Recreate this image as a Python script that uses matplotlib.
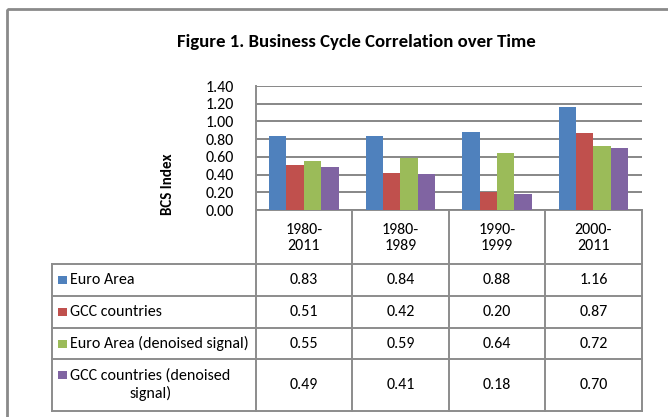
import numpy as np
import matplotlib
matplotlib.use("Agg")
import matplotlib.pyplot as plt
from matplotlib import font_manager
from matplotlib.patches import Rectangle

# data
categories = ["1980-\n2011", "1980-\n1989", "1990-\n1999", "2000-\n2011"]
series_names = ["Euro Area", "GCC countries", "Euro Area (denoised signal)",
                "GCC countries (denoised\nsignal)"]
euro_area = [0.83, 0.84, 0.88, 1.16]
gcc = [0.51, 0.42, 0.20, 0.87]
euro_denoised = [0.55, 0.59, 0.64, 0.72]
gcc_denoised = [0.49, 0.41, 0.18, 0.70]
yticks = [0.0, 0.2, 0.4, 0.6, 0.8, 1.0, 1.2, 1.4]

series = [euro_area, gcc, euro_denoised, gcc_denoised]
colors = ["#4F81BD", "#C0504D", "#9BBB59", "#8064A2"]
GRID = "#878787"
LINE = "#8C8C8C"
FS = 11.5

installed = {f.name for f in font_manager.fontManager.ttflist}
font = "Carlito" if "Carlito" in installed else "Lato"
plt.rcParams["font.family"] = [font, "DejaVu Sans"]

W, H = 668, 417
fig = plt.figure(figsize=(W / 100, H / 100), dpi=100)

# overlay in pixel coords for frame, table and text
ov = fig.add_axes([0, 0, 1, 1])
ov.set_xlim(0, W)
ov.set_ylim(H, 0)
ov.axis("off")

# plot area box (pixels)
left, right, top, bottom = 255.6, 641.7, 86, 210
label_left = 52
row_edges = [264, 296, 328, 359, 411]

ax = fig.add_axes([left / W, 1 - bottom / H, (right - left) / W, (bottom - top) / H])
x = np.arange(len(categories))
bw = 0.18
for i, (vals, c) in enumerate(zip(series, colors)):
    ax.bar(x + (i - 1.5) * bw, vals, bw, color=c, edgecolor="none", zorder=3)
ax.set_xlim(-0.5, len(categories) - 0.5)
ax.set_ylim(0, 1.4)
ax.set_yticks(yticks)
ax.set_yticklabels([f"{v:.2f}" for v in yticks], fontsize=FS)
ax.set_xticks([])
ax.tick_params(axis="y", length=0, pad=15.5)
ax.yaxis.grid(True, color=GRID, linewidth=1.4)
ax.set_axisbelow(True)
for s in ["top", "right", "bottom"]:
    ax.spines[s].set_visible(False)
ax.spines["left"].set_color(LINE)
ax.spines["left"].set_linewidth(1.4)
ax.patch.set_alpha(0)

# outer chart frame
ov.add_patch(Rectangle((7, 9), 700, 420, fill=False, edgecolor="#8A8A8A", linewidth=2))

ov.text(356, 42, "Figure 1. Business Cycle Correlation over Time", ha="center",
        va="center", fontsize=13.5, fontweight="bold")
ov.text(168, 184, "BCS Index", rotation=90, ha="center", va="center",
        fontsize=10.8, fontweight="bold")

# data table
col_edges = np.linspace(left, right, len(categories) + 1)
lw = 1.4
ov.plot([left, right], [bottom, bottom], color=LINE, lw=lw)
for xe in col_edges:
    ov.plot([xe, xe], [bottom, row_edges[-1]], color=LINE, lw=lw)
for ye in row_edges:
    ov.plot([label_left, right], [ye, ye], color=LINE, lw=lw)
ov.plot([label_left, label_left], [row_edges[0], row_edges[-1]], color=LINE, lw=lw)

col_mid = (col_edges[:-1] + col_edges[1:]) / 2
for cx, cat in zip(col_mid, categories):
    ov.text(cx, (bottom + row_edges[0]) / 2 + 1, cat, ha="center", va="center",
            fontsize=FS, linespacing=1.25)

for r, (name, vals, c) in enumerate(zip(series_names, series, colors)):
    ry = (row_edges[r] + row_edges[r + 1]) / 2
    nlines = name.count("\n") + 1
    sy = ry - (nlines - 1) * 10
    ov.add_patch(Rectangle((58, sy - 4), 9, 8, color=c, lw=0))
    ov.text(70, ry, name, ha="left", va="center", multialignment="center",
            fontsize=FS, linespacing=1.25)
    for cx, v in zip(col_mid, vals):
        ov.text(cx, ry, f"{v:.2f}", ha="center", va="center", fontsize=FS)

fig.savefig("out.png", dpi=100)
